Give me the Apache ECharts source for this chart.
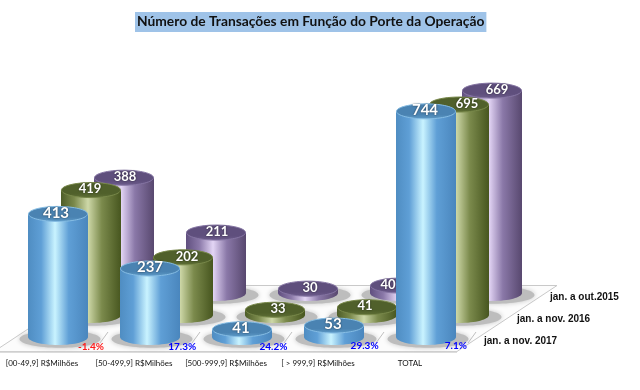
<!DOCTYPE html>
<html><head><meta charset="utf-8">
<style>html,body{margin:0;padding:0;background:#fff}#c{width:640px;height:390px}</style>
<script src="https://cdn.jsdelivr.net/npm/echarts@6/dist/echarts.min.js"></script>
</head><body><div id="c"></div>
<script>
const titleText = 'Número de Transações em Função do Porte da Operação';
const categories = ['[00-49,9] R$Milhões','[50-499,9] R$Milhões','[500-999,9] R$Milhões','[ > 999,9] R$Milhões','TOTAL'];
const values2017 = [413,237,41,53,744];
const values2016 = [419,202,33,41,695];
const values2015 = [388,211,30,40,669];
const variation = ['-1.4%','17.3%','24.2%','29.3%','7.1%'];
const variationColors = ['#ff1a1a','#0000ff','#0000ff','#0000ff','#0000ff'];
const seriesNames = ['jan. a nov. 2017','jan. a nov. 2016','jan. a out.2015'];

const RX = 30, RY = 8, DX = 33, DY = -22;
const FONT = 'Lato, "Open Sans", sans-serif';
// small horizontal shifts of the value labels, by depth then category
const labelNudge = [[-2,0,-1,-1,-1],[-1,4,3,-2,8],[1,1,2,-12,5]];

const looks = [
  {edge:'#4f8dc2', mid:'#5f9fd6', bright:'#c9f3ff', dark:'#4a86bd', top:'#4a83b2', topLow:'#5f9cc8', rim:'#86bde4', fs:15},
  {edge:'#4d5d28', mid:'#7b8a4c', bright:'#ced8a8', dark:'#47561f', top:'#50602b', topLow:'#5f6f36', rim:'#78884a', fs:13},
  {edge:'#604f7f', mid:'#8a78a8', bright:'#e3d5f5', dark:'#58486f', top:'#5f4f7d', topLow:'#6d5c8c', rim:'#8575a3', fs:13}
];

function cylinder(depth, name) {
  const L = looks[depth];
  return function (params, api) {
    const cat = api.value(0);
    const base = api.coord([cat, 16]);
    const top = api.coord([cat, api.value(1)]);
    const cx = base[0] + DX * depth, by = base[1] + DY * depth, ty = top[1] + DY * depth;
    const fill = new echarts.graphic.LinearGradient(0,0,1,0,[
      {offset:0,color:L.edge},{offset:0.22,color:L.mid},{offset:0.45,color:L.bright},
      {offset:0.68,color:L.mid},{offset:1,color:L.dark}]);
    const children = [
      {type:'ellipse', shape:{cx:cx, cy:by, rx:RX, ry:RY}, style:{fill:fill}},
      {type:'rect', shape:{x:cx-RX, y:ty, width:RX*2, height:by-ty}, style:{fill:fill}},
      {type:'ellipse', shape:{cx:cx, cy:ty, rx:RX-0.5, ry:RY-0.5},
        style:{fill:new echarts.graphic.LinearGradient(0,0,0,1,[{offset:0,color:L.top},{offset:0.7,color:L.top},{offset:1,color:L.topLow}]),
               stroke:L.rim, lineWidth:1}},
      {type:'text', style:{text:String(api.value(1)), x:cx+labelNudge[depth][cat], y:ty-1, align:'center', verticalAlign:'middle',
        fill:'#ffffff', fontFamily:FONT, fontWeight:'bold', fontSize:L.fs,
        textShadowColor:'rgba(0,0,0,0.6)', textShadowBlur:2}}
    ];
    if (cat === categories.length - 1) {
      children.push({type:'text', style:{text:name, x:cx+58, y:by+4, align:'left', verticalAlign:'middle',
        fill:'#111', fontFamily:'"Liberation Sans", sans-serif', fontWeight:'bold', fontSize:10}});
    }
    return {type:'group', silent:true, children:children};
  };
}

function floorItem(params, api) {
  const cat = api.value(0);
  const p = api.coord([cat, 16]);
  const band = api.size([1,0])[0];
  const y0 = p[1];
  const children = [];
  const firstX = p[0] - band * cat, lastX = firstX + band * (categories.length - 1);
  if (cat === 0) {
    const fy = y0 + 14.5, by = fy + DY*3;
    children.push({type:'polygon', shape:{points:[[firstX-64,fy],[lastX+31,fy],[lastX+131,by],[firstX+36,by]]},
      style:{fill:'#fcfcfc', stroke:'#c9c9c9', lineWidth:1}});
    children.push({type:'line', shape:{x1:firstX-64,y1:fy+0.5,x2:lastX+31,y2:fy+0.5}, style:{stroke:'#d0d0d0', lineWidth:1.5}});
  }
  for (let d = 2; d >= 0; d--) {
    const cx = p[0] + DX*d, cy = y0 + DY*d + 2;
    children.push({type:'ellipse', shape:{cx:cx+2, cy:cy, rx:RX*1.35, ry:RY*1.1},
      style:{fill:'#bdbdbd', shadowBlur:5, shadowColor:'#c4c4c4'}});
  }
  children.push({type:'line', shape:{x1:p[0]+42,y1:y0+6,x2:p[0]+50,y2:y0-5}, style:{stroke:'#c0c0c0', lineWidth:1}});
  return {type:'group', silent:true, children:children};
}

function percentItem(params, api) {
  const cat = api.value(0);
  const p = api.coord([cat, 16]);
  return {type:'text', silent:true, style:{text:variation[cat], x:p[0]+33-cat*0.8, y:p[1]+(cat>2?8.5:9.5), align:'center', verticalAlign:'middle',
    fill:variationColors[cat], fontFamily:FONT, fontSize:10, fontWeight:'bold'}};
}

const chart = echarts.init(document.getElementById('c'), null, {renderer:'canvas'});
chart.setOption({
  animation:false,
  backgroundColor:'#ffffff',
  title:{text:titleText, left:135, top:12, padding:[2,2,2,2], backgroundColor:'#9fc3e8',
    textStyle:{fontFamily:FONT, fontSize:13.8, fontWeight:'bold', color:'#111', lineHeight:16}},
  grid:{left:12, top:94, width:460, height:243},
  xAxis:{type:'category', data:categories, boundaryGap:true,
    axisLine:{show:false}, axisTick:{show:false}, splitLine:{show:false},
    axisLabel:{color:'#111', fontFamily:FONT, fontSize:8, margin:22, interval:0, padding:[0,32,0,0]}},
  yAxis:{type:'value', min:16, max:800, show:false, splitLine:{show:false}},
  series:[
    {type:'custom', name:'piso', renderItem:floorItem, z:1, encode:{x:0,y:1}, data:values2017.map((v,i)=>[i,v])},
    {type:'custom', name:seriesNames[2], renderItem:cylinder(2,seriesNames[2]), z:2, encode:{x:0,y:1}, data:values2015.map((v,i)=>[i,v])},
    {type:'custom', name:seriesNames[1], renderItem:cylinder(1,seriesNames[1]), z:3, encode:{x:0,y:1}, data:values2016.map((v,i)=>[i,v])},
    {type:'custom', name:seriesNames[0], renderItem:cylinder(0,seriesNames[0]), z:4, encode:{x:0,y:1}, data:values2017.map((v,i)=>[i,v])},
    {type:'custom', name:'variação', renderItem:percentItem, z:5, encode:{x:0,y:1}, data:values2017.map((v,i)=>[i,v])}
  ]
});
</script></body></html>
